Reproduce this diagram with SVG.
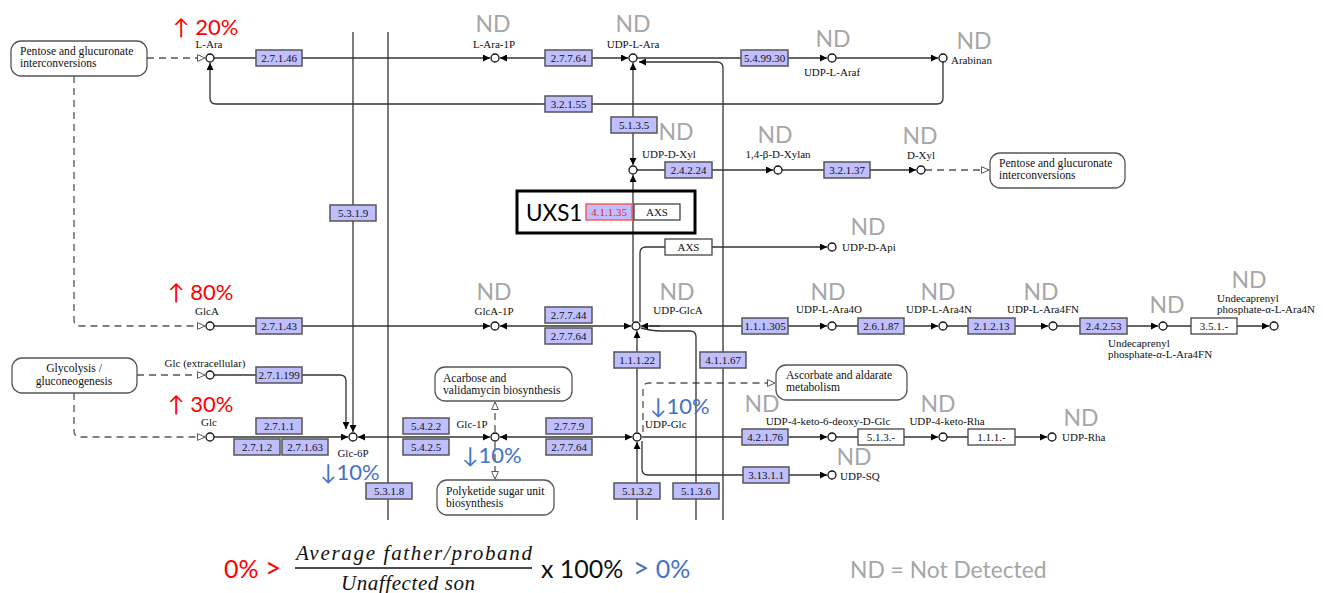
<svg xmlns="http://www.w3.org/2000/svg" width="1323" height="593" viewBox="0 0 1323 593">
<style>
.ln{fill:none;stroke:#333;stroke-width:1.3}
.dl{fill:none;stroke:#555;stroke-width:1.3;stroke-dasharray:7 5}
.cp{fill:#fff;stroke:#111;stroke-width:1.3}
.ez rect{fill:#bfbfff;stroke:#555;stroke-width:1.5}
.wz rect{fill:#fff;stroke:#444;stroke-width:1.3}
.rz rect{fill:#bfbfff;stroke:#ff5a5a;stroke-width:1.5}
.et{font-family:"Liberation Serif",serif;font-size:11px;fill:#111;text-anchor:middle}
.rz .et{fill:#e8202a}
.lb{font-family:"Liberation Serif",serif;font-size:11px;fill:#111}
.pw .lb{font-size:11.6px}
.mid{text-anchor:middle}
.nd{font-family:Lato,"Liberation Sans",sans-serif;font-size:23px;fill:#a6a6a6;text-anchor:middle}
.up{font-family:Lato,"Liberation Sans",sans-serif;font-size:22px;fill:#ff0000}
.dn{font-family:Lato,"Liberation Sans",sans-serif;font-size:22px;fill:#4472c4}
.pw rect{fill:#fff;stroke:#555;stroke-width:1.3}
.big{font-family:Lato,"Liberation Sans",sans-serif;font-size:25px}
</style>
<defs>
<marker id="a" viewBox="0 0 10 10" refX="10" refY="5" markerWidth="8" markerHeight="7" markerUnits="userSpaceOnUse" orient="auto-start-reverse"><path d="M0,0 L10,5 L0,10 z" fill="#000"/></marker>
<marker id="o" viewBox="0 0 12 12" refX="11" refY="6" markerWidth="9" markerHeight="9" markerUnits="userSpaceOnUse" orient="auto"><path d="M1,1.5 L11,6 L1,10.5 z" fill="#fff" stroke="#555" stroke-width="1.3"/></marker>
</defs>

<g id="connectors">
<path class="dl" d="M147,58 H205" marker-end="url(#o)"/>
<path class="dl" d="M74,76 V320 Q74,326 80,326 H205" marker-end="url(#o)"/>
<path class="dl" d="M137,375 H205" marker-end="url(#o)"/>
<path class="dl" d="M74,393 V431 Q74,437 80,437 H205" marker-end="url(#o)"/>
<path class="dl" d="M925,170 H989" marker-end="url(#o)"/>
<path class="dl" d="M643,432 V389 Q643,383 649,383 H775" marker-end="url(#o)"/>
<path class="dl" d="M495,432 V402" marker-end="url(#o)"/>
<path class="dl" d="M495,442 V479" marker-end="url(#o)"/>

<path class="ln" d="M214,58 H490" marker-end="url(#a)"/>
<path class="ln" d="M500,58 H628" marker-start="url(#a)" marker-end="url(#a)"/>
<path class="ln" d="M637,58 H827" marker-end="url(#a)"/>
<path class="ln" d="M836,58 H938" marker-end="url(#a)"/>
<path class="ln" d="M943,62 V98 Q943,104 937,104 H216 Q210,104 210,98 V63" marker-end="url(#a)"/>
<path class="ln" d="M723,520 V68 Q723,62 717,62 H639" marker-end="url(#a)"/>
<path class="ln" d="M633,63 V165" marker-start="url(#a)" marker-end="url(#a)"/>
<path class="ln" d="M633,322 V175" marker-end="url(#a)"/>
<path class="ln" d="M637,170 H773" marker-end="url(#a)"/>
<path class="ln" d="M782,170 H916" marker-end="url(#a)"/>
<path class="ln" d="M640,322 V253 Q640,247 646,247 H827" marker-end="url(#a)"/>

<path class="ln" d="M214,326 H490" marker-end="url(#a)"/>
<path class="ln" d="M500,326 H631" marker-start="url(#a)" marker-end="url(#a)"/>
<path class="ln" d="M649,326 H827" marker-end="url(#a)"/>
<path class="ln" d="M696,520 V337 Q696,331 690,331 H660 Q652,331 641,328"/>
<path class="ln" d="M660,326 H641" marker-end="url(#a)"/>
<path class="ln" d="M836,326 H938" marker-end="url(#a)"/>
<path class="ln" d="M947,326 H1048" marker-end="url(#a)"/>
<path class="ln" d="M1057,326 H1158" marker-end="url(#a)"/>
<path class="ln" d="M1167,326 H1269" marker-end="url(#a)"/>
<path class="ln" d="M637,432 V331" marker-end="url(#a)"/>

<path class="ln" d="M214,375 H340 Q346,375 346,381 V429" marker-end="url(#a)"/>
<path class="ln" d="M353,32 V432" marker-end="url(#a)"/>
<path class="ln" d="M388,32 V520"/>
<path class="ln" d="M214,437 H348" marker-end="url(#a)"/>
<path class="ln" d="M490,437 H358" marker-start="url(#a)" marker-end="url(#a)"/>
<path class="ln" d="M500,437 H632" marker-start="url(#a)" marker-end="url(#a)"/>
<path class="ln" d="M642,437 H827" marker-end="url(#a)"/>
<path class="ln" d="M836,437 H938" marker-end="url(#a)"/>
<path class="ln" d="M947,437 H1047" marker-end="url(#a)"/>
<path class="ln" d="M637,520 V442" marker-end="url(#a)"/>
<path class="ln" d="M642,441 V469 Q642,475 648,475 H827" marker-end="url(#a)"/>
</g>

<g id="pw-pentose1" class="pw"><rect x="11" y="41" width="136" height="35" rx="10"/><text class="lb" x="20" y="55">Pentose and glucuronate</text><text class="lb" x="20" y="67">interconversions</text></g>
<g id="pw-pentose2" class="pw"><rect x="990" y="153" width="135" height="35" rx="10"/><text class="lb" x="999" y="167">Pentose and glucuronate</text><text class="lb" x="999" y="179">interconversions</text></g>
<g id="pw-glycolysis" class="pw"><rect x="12" y="358" width="125" height="35" rx="10"/><text class="lb mid" x="74" y="372">Glycolysis /</text><text class="lb mid" x="74" y="385">gluconeogenesis</text></g>
<g id="pw-acarbose" class="pw"><rect x="435" y="367" width="137" height="34" rx="10"/><text class="lb" x="443" y="382">Acarbose and</text><text class="lb" x="443" y="394">validamycin biosynthesis</text></g>
<g id="pw-polyketide" class="pw"><rect x="437" y="480" width="117" height="35" rx="10"/><text class="lb" x="446" y="495">Polyketide sugar unit</text><text class="lb" x="446" y="507">biosynthesis</text></g>
<g id="pw-ascorbate" class="pw"><rect x="776" y="365" width="131" height="35" rx="10"/><text class="lb" x="786" y="379">Ascorbate and aldarate</text><text class="lb" x="786" y="391">metabolism</text></g>

<g id="uxs1"><rect x="517" y="191" width="178" height="42" fill="none" stroke="#000" stroke-width="3"/><text class="big" x="526" y="221" style="font-size:22.5px">UXS1</text></g>

<g id="e4_1_1_35" class="rz"><rect x="586" y="204" width="46" height="16"/><text class="et" x="609" y="216">4.1.1.35</text></g>
<g id="eAXS1" class="wz"><rect x="634" y="204" width="46" height="16"/><text class="et" x="657" y="216">AXS</text></g>
<g id="eAXS2" class="wz"><rect x="665" y="239" width="47" height="16"/><text class="et" x="688.5" y="251">AXS</text></g>
<g id="e2_7_1_46" class="ez"><rect x="256" y="50" width="46" height="16"/><text class="et" x="279" y="62">2.7.1.46</text></g>
<g id="e2_7_7_64a" class="ez"><rect x="545" y="50" width="47" height="16"/><text class="et" x="568.5" y="62">2.7.7.64</text></g>
<g id="e5_4_99_30" class="ez"><rect x="741" y="50" width="47" height="16"/><text class="et" x="764.5" y="62">5.4.99.30</text></g>
<g id="e3_2_1_55" class="ez"><rect x="545" y="96" width="47" height="16"/><text class="et" x="568.5" y="108">3.2.1.55</text></g>
<g id="e5_1_3_5" class="ez"><rect x="611" y="117" width="46" height="16"/><text class="et" x="634" y="129">5.1.3.5</text></g>
<g id="e2_4_2_24" class="ez"><rect x="665" y="162" width="47" height="16"/><text class="et" x="688.5" y="174">2.4.2.24</text></g>
<g id="e3_2_1_37" class="ez"><rect x="824" y="162" width="46" height="16"/><text class="et" x="847" y="174">3.2.1.37</text></g>
<g id="e5_3_1_9" class="ez"><rect x="330" y="205" width="46" height="16"/><text class="et" x="353" y="217">5.3.1.9</text></g>
<g id="e2_7_1_43" class="ez"><rect x="256" y="318" width="46" height="16"/><text class="et" x="279" y="330">2.7.1.43</text></g>
<g id="e2_7_7_44" class="ez"><rect x="545" y="307" width="47" height="16"/><text class="et" x="568.5" y="319">2.7.7.44</text></g>
<g id="e2_7_7_64b" class="ez"><rect x="545" y="328" width="47" height="16"/><text class="et" x="568.5" y="340">2.7.7.64</text></g>
<g id="e1_1_1_305" class="ez"><rect x="742" y="318" width="46" height="16"/><text class="et" x="765" y="330">1.1.1.305</text></g>
<g id="e2_6_1_87" class="ez"><rect x="858" y="318" width="46" height="16"/><text class="et" x="881" y="330">2.6.1.87</text></g>
<g id="e2_1_2_13" class="ez"><rect x="968" y="318" width="47" height="16"/><text class="et" x="991.5" y="330">2.1.2.13</text></g>
<g id="e2_4_2_53" class="ez"><rect x="1080" y="318" width="47" height="16"/><text class="et" x="1103.5" y="330">2.4.2.53</text></g>
<g id="e3_5_1_" class="wz"><rect x="1191" y="318" width="46" height="16"/><text class="et" x="1214" y="330">3.5.1.-</text></g>
<g id="e1_1_1_22" class="ez"><rect x="614" y="352" width="46" height="16"/><text class="et" x="637" y="364">1.1.1.22</text></g>
<g id="e4_1_1_67" class="ez"><rect x="700" y="352" width="46" height="16"/><text class="et" x="723" y="364">4.1.1.67</text></g>
<g id="e2_7_1_199" class="ez"><rect x="256" y="367" width="46" height="16"/><text class="et" x="279" y="379">2.7.1.199</text></g>
<g id="e2_7_1_1" class="ez"><rect x="256" y="418" width="46" height="16"/><text class="et" x="279" y="430">2.7.1.1</text></g>
<g id="e2_7_1_2" class="ez"><rect x="234" y="439" width="46" height="16"/><text class="et" x="257" y="451">2.7.1.2</text></g>
<g id="e2_7_1_63" class="ez"><rect x="282" y="439" width="46" height="16"/><text class="et" x="305" y="451">2.7.1.63</text></g>
<g id="e5_4_2_2" class="ez"><rect x="403" y="418" width="46" height="16"/><text class="et" x="426" y="430">5.4.2.2</text></g>
<g id="e5_4_2_5" class="ez"><rect x="403" y="439" width="46" height="16"/><text class="et" x="426" y="451">5.4.2.5</text></g>
<g id="e2_7_7_9" class="ez"><rect x="546" y="418" width="46" height="16"/><text class="et" x="569" y="430">2.7.7.9</text></g>
<g id="e2_7_7_64c" class="ez"><rect x="546" y="439" width="46" height="16"/><text class="et" x="569" y="451">2.7.7.64</text></g>
<g id="e4_2_1_76" class="ez"><rect x="742" y="429" width="46" height="16"/><text class="et" x="765" y="441">4.2.1.76</text></g>
<g id="e5_1_3_" class="wz"><rect x="858" y="429" width="46" height="16"/><text class="et" x="881" y="441">5.1.3.-</text></g>
<g id="e1_1_1_" class="wz"><rect x="968" y="429" width="47" height="16"/><text class="et" x="991.5" y="441">1.1.1.-</text></g>
<g id="e3_13_1_1" class="ez"><rect x="743" y="467" width="46" height="16"/><text class="et" x="766" y="479">3.13.1.1</text></g>
<g id="e5_3_1_8" class="ez"><rect x="366" y="483" width="46" height="16"/><text class="et" x="389" y="495">5.3.1.8</text></g>
<g id="e5_1_3_2" class="ez"><rect x="614" y="483" width="46" height="16"/><text class="et" x="637" y="495">5.1.3.2</text></g>
<g id="e5_1_3_6" class="ez"><rect x="673" y="483" width="46" height="16"/><text class="et" x="696" y="495">5.1.3.6</text></g>

<g id="n-LAra"><circle class="cp" cx="210" cy="58" r="4"/><text class="lb mid" x="209" y="48">L-Ara</text><text class="up" x="173" y="35">↑ 20%</text></g>
<g id="n-LAra1P"><circle class="cp" cx="495" cy="58" r="4"/><text class="lb mid" x="494" y="48">L-Ara-1P</text><text class="nd" x="493" y="32">ND</text></g>
<g id="n-UDPLAra"><circle class="cp" cx="633" cy="58" r="4"/><text class="lb mid" x="633" y="48">UDP-L-Ara</text><text class="nd" x="633" y="32">ND</text></g>
<g id="n-UDPLAraf"><circle class="cp" cx="832" cy="58" r="4"/><text class="lb mid" x="832" y="76">UDP-L-Araf</text><text class="nd" x="833" y="47">ND</text></g>
<g id="n-Arabinan"><circle class="cp" cx="943" cy="58" r="4"/><text class="lb" x="951" y="64">Arabinan</text><text class="nd" x="974" y="49">ND</text></g>
<g id="n-UDPDXyl"><circle class="cp" cx="633" cy="170" r="4"/><text class="lb" x="642" y="158">UDP-D-Xyl</text><text class="nd" x="676" y="140">ND</text></g>
<g id="n-Xylan"><circle class="cp" cx="778" cy="170" r="4"/><text class="lb mid" x="778" y="158">1,4-β-D-Xylan</text><text class="nd" x="775" y="143">ND</text></g>
<g id="n-DXyl"><circle class="cp" cx="921" cy="170" r="4"/><text class="lb mid" x="921" y="159">D-Xyl</text><text class="nd" x="920" y="144">ND</text></g>
<g id="n-UDPDApi"><circle class="cp" cx="832" cy="247" r="4"/><text class="lb" x="842" y="251">UDP-D-Api</text><text class="nd" x="868" y="235">ND</text></g>
<g id="n-GlcA"><circle class="cp" cx="210" cy="326" r="4"/><text class="lb mid" x="207" y="315">GlcA</text><text class="up" x="168" y="300">↑ 80%</text></g>
<g id="n-GlcA1P"><circle class="cp" cx="495" cy="326" r="4"/><text class="lb mid" x="494" y="315">GlcA-1P</text><text class="nd" x="494" y="300">ND</text></g>
<g id="n-UDPGlcA"><circle class="cp" cx="636" cy="326" r="4"/><text class="lb mid" x="678" y="314">UDP-GlcA</text><text class="nd" x="677" y="300">ND</text></g>
<g id="n-UDPLAra4O"><circle class="cp" cx="832" cy="326" r="4"/><text class="lb mid" x="829" y="313">UDP-L-Ara4O</text><text class="nd" x="828" y="300">ND</text></g>
<g id="n-UDPLAra4N"><circle class="cp" cx="943" cy="326" r="4"/><text class="lb mid" x="939" y="313">UDP-L-Ara4N</text><text class="nd" x="938" y="300">ND</text></g>
<g id="n-UDPLAra4FN"><circle class="cp" cx="1053" cy="326" r="4"/><text class="lb mid" x="1043" y="313">UDP-L-Ara4FN</text><text class="nd" x="1041" y="300">ND</text></g>
<g id="n-UndAra4FN"><circle class="cp" cx="1163" cy="326" r="4"/><text class="lb" x="1108" y="347">Undecaprenyl</text><text class="lb" x="1108" y="358">phosphate-α-L-Ara4FN</text><text class="nd" x="1167" y="313">ND</text></g>
<g id="n-UndAra4N"><circle class="cp" cx="1274" cy="326" r="4"/><text class="lb" x="1217" y="302">Undecaprenyl</text><text class="lb" x="1217" y="313">phosphate-α-L-Ara4N</text><text class="nd" x="1249" y="288">ND</text></g>
<g id="n-GlcExt"><circle class="cp" cx="210" cy="375" r="4"/><text class="lb mid" x="205" y="367">Glc (extracellular)</text></g>
<g id="n-Glc"><circle class="cp" cx="210" cy="437" r="4"/><text class="lb mid" x="209" y="426">Glc</text><text class="up" x="168" y="412">↑ 30%</text></g>
<g id="n-Glc6P"><circle class="cp" cx="353" cy="437" r="4"/><text class="lb mid" x="353" y="457">Glc-6P</text><text class="dn" x="320" y="480">↓10%</text></g>
<g id="n-Glc1P"><circle class="cp" cx="495" cy="437" r="4"/><text class="lb mid" x="472" y="428">Glc-1P</text><text class="dn" x="462" y="463">↓10%</text></g>
<g id="n-UDPGlc"><circle class="cp" cx="637" cy="437" r="4"/><text class="lb" x="645" y="428">UDP-Glc</text><text class="dn" x="650" y="414">↓10%</text></g>
<g id="n-UDP4k6d"><circle class="cp" cx="832" cy="437" r="4"/><text class="lb mid" x="828" y="425">UDP-4-keto-6-deoxy-D-Glc</text><text class="nd" x="762" y="412">ND</text></g>
<g id="n-UDP4kRha"><circle class="cp" cx="943" cy="437" r="4"/><text class="lb mid" x="947" y="425">UDP-4-keto-Rha</text><text class="nd" x="938" y="412">ND</text></g>
<g id="n-UDPRha"><circle class="cp" cx="1052" cy="437" r="4"/><text class="lb" x="1062" y="441">UDP-Rha</text><text class="nd" x="1081" y="426">ND</text></g>
<g id="n-UDPSQ"><circle class="cp" cx="832" cy="475" r="4"/><text class="lb" x="840" y="480">UDP-SQ</text><text class="nd" x="854" y="465">ND</text></g>

<g id="legend">
<text class="big" x="224" y="578" fill="#ff0000">0% <tspan font-size="28">&gt;</tspan></text>
<text x="296" y="560" font-family="'Liberation Serif',serif" font-style="italic" font-size="21" textLength="236" fill="#111">Average father/proband</text>
<line x1="295" y1="568" x2="532" y2="568" stroke="#111" stroke-width="1.3"/>
<text x="341" y="590" font-family="'Liberation Serif',serif" font-style="italic" font-size="21" textLength="134" fill="#111">Unaffected son</text>
<text class="big" x="541" y="578" fill="#111">x 100%</text>
<text class="big" x="633" y="578" fill="#4472c4"><tspan font-size="28">&gt;</tspan> 0%</text>
<text class="big" x="850" y="578" fill="#a6a6a6" style="font-size:22.8px">ND = Not Detected</text>
</g>
</svg>
